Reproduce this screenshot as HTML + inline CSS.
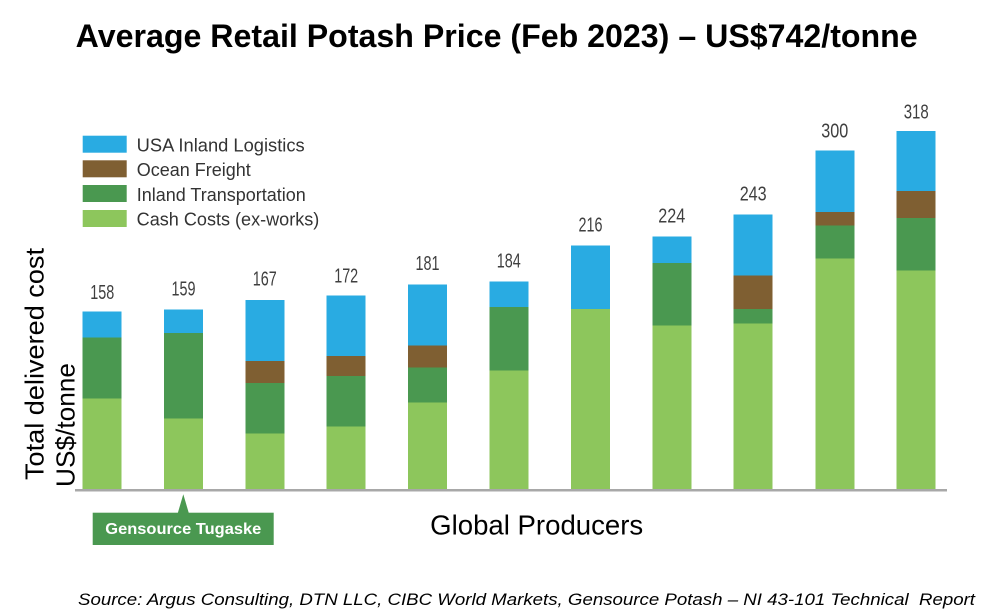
<!DOCTYPE html>
<html><head><meta charset="utf-8"><style>
html,body{margin:0;padding:0;background:#fff;}
svg{display:block;}
</style></head><body>
<svg width="997" height="614" viewBox="0 0 997 614" xmlns="http://www.w3.org/2000/svg">
<rect width="997" height="614" fill="#fff"/>
<text x="75.7" y="47" font-family="Liberation Sans, Arial, sans-serif" font-weight="bold" font-size="32" textLength="842" lengthAdjust="spacingAndGlyphs" fill="#000">Average Retail Potash Price (Feb 2023) – US$742/tonne</text>

<!-- legend -->
<g font-family="Liberation Sans, Arial, sans-serif" font-size="18" fill="#333">
<rect x="82.7" y="135.7" width="44" height="17" fill="#29ABE2"/>
<rect x="82.7" y="160.3" width="44" height="17" fill="#7F5F32"/>
<rect x="82.7" y="185" width="44" height="17" fill="#4A9850"/>
<rect x="82.7" y="210" width="44" height="17" fill="#8DC65C"/>
<text x="136.7" y="151.7" textLength="168" lengthAdjust="spacingAndGlyphs">USA Inland Logistics</text>
<text x="136.7" y="176.2">Ocean Freight</text>
<text x="136.7" y="200.8">Inland Transportation</text>
<text x="136.7" y="225.3" textLength="182.6" lengthAdjust="spacingAndGlyphs">Cash Costs (ex-works)</text>
</g>

<!-- bars -->
<g shape-rendering="crispEdges">
<rect x="82.7" y="311.7" width="39" height="26" fill="#29ABE2"/>
<rect x="82.7" y="337.7" width="39" height="61" fill="#4A9850"/>
<rect x="82.7" y="398.7" width="39" height="90.3" fill="#8DC65C"/>
<rect x="164" y="309.3" width="39" height="23.7" fill="#29ABE2"/>
<rect x="164" y="333" width="39" height="85.7" fill="#4A9850"/>
<rect x="164" y="418.7" width="39" height="70.3" fill="#8DC65C"/>
<rect x="245.3" y="300" width="39" height="61" fill="#29ABE2"/>
<rect x="245.3" y="361" width="39" height="22" fill="#7F5F32"/>
<rect x="245.3" y="383" width="39" height="50.7" fill="#4A9850"/>
<rect x="245.3" y="433.7" width="39" height="55.3" fill="#8DC65C"/>
<rect x="326.7" y="295.7" width="39" height="60.3" fill="#29ABE2"/>
<rect x="326.7" y="356" width="39" height="20" fill="#7F5F32"/>
<rect x="326.7" y="376" width="39" height="50.3" fill="#4A9850"/>
<rect x="326.7" y="426.3" width="39" height="62.7" fill="#8DC65C"/>
<rect x="408" y="284.3" width="39" height="61.4" fill="#29ABE2"/>
<rect x="408" y="345.7" width="39" height="22" fill="#7F5F32"/>
<rect x="408" y="367.7" width="39" height="35" fill="#4A9850"/>
<rect x="408" y="402.7" width="39" height="86.3" fill="#8DC65C"/>
<rect x="489.3" y="281.7" width="39" height="25.3" fill="#29ABE2"/>
<rect x="489.3" y="307" width="39" height="63.7" fill="#4A9850"/>
<rect x="489.3" y="370.7" width="39" height="118.3" fill="#8DC65C"/>
<rect x="571" y="245.3" width="39" height="63.7" fill="#29ABE2"/>
<rect x="571" y="309" width="39" height="180" fill="#8DC65C"/>
<rect x="652.3" y="236.3" width="39" height="26.7" fill="#29ABE2"/>
<rect x="652.3" y="263" width="39" height="62.7" fill="#4A9850"/>
<rect x="652.3" y="325.7" width="39" height="163.3" fill="#8DC65C"/>
<rect x="733.7" y="214.3" width="39" height="61.4" fill="#29ABE2"/>
<rect x="733.7" y="275.7" width="39" height="33.3" fill="#7F5F32"/>
<rect x="733.7" y="309" width="39" height="14.7" fill="#4A9850"/>
<rect x="733.7" y="323.7" width="39" height="165.3" fill="#8DC65C"/>
<rect x="815.3" y="150.7" width="39" height="61.3" fill="#29ABE2"/>
<rect x="815.3" y="212" width="39" height="13.3" fill="#7F5F32"/>
<rect x="815.3" y="225.3" width="39" height="33.4" fill="#4A9850"/>
<rect x="815.3" y="258.7" width="39" height="230.3" fill="#8DC65C"/>
<rect x="896.7" y="131" width="39" height="60" fill="#29ABE2"/>
<rect x="896.7" y="191" width="39" height="27" fill="#7F5F32"/>
<rect x="896.7" y="218" width="39" height="52.7" fill="#4A9850"/>
<rect x="896.7" y="270.7" width="39" height="218.3" fill="#8DC65C"/>
<rect x="75" y="489" width="872" height="2.5" fill="#A8A8A8"/>
</g>

<!-- value labels -->
<g font-family="Liberation Sans, Arial, sans-serif" font-size="20.5" fill="#3f3f3f" text-anchor="middle">
<text x="102.3" y="299" textLength="24" lengthAdjust="spacingAndGlyphs">158</text>
<text x="183.5" y="295.7" textLength="24" lengthAdjust="spacingAndGlyphs">159</text>
<text x="264.8" y="285.7" textLength="24" lengthAdjust="spacingAndGlyphs">167</text>
<text x="346.2" y="282.3" textLength="24" lengthAdjust="spacingAndGlyphs">172</text>
<text x="427.5" y="270" textLength="24" lengthAdjust="spacingAndGlyphs">181</text>
<text x="508.8" y="267.3" textLength="24" lengthAdjust="spacingAndGlyphs">184</text>
<text x="590.5" y="231.7" textLength="24" lengthAdjust="spacingAndGlyphs">216</text>
<text x="671.8" y="222.7" textLength="27" lengthAdjust="spacingAndGlyphs">224</text>
<text x="753.2" y="200.7" textLength="27" lengthAdjust="spacingAndGlyphs">243</text>
<text x="834.8" y="137.7" textLength="27" lengthAdjust="spacingAndGlyphs">300</text>
<text x="916.2" y="118.3" textLength="25" lengthAdjust="spacingAndGlyphs">318</text>
</g>

<!-- y axis label -->
<g font-family="Liberation Sans, Arial, sans-serif" font-size="26" fill="#000">
<text transform="translate(43.5,480) rotate(-90)" textLength="232" lengthAdjust="spacingAndGlyphs">Total delivered cost</text>
<text transform="translate(74.5,487) rotate(-90)" textLength="124" lengthAdjust="spacingAndGlyphs">US$/tonne</text>
</g>

<!-- x axis label -->
<text x="536.7" y="534.3" text-anchor="middle" font-family="Liberation Sans, Arial, sans-serif" font-size="27.5" fill="#000" textLength="213" lengthAdjust="spacingAndGlyphs">Global Producers</text>

<!-- callout -->
<polygon points="183.3,494.3 177.8,513 188.8,513" fill="#4A9850"/>
<rect x="92.7" y="512.7" width="181" height="32.3" fill="#4A9850"/>
<text x="183.3" y="534" text-anchor="middle" font-family="Liberation Sans, Arial, sans-serif" font-weight="bold" font-size="16" fill="#fff" textLength="156" lengthAdjust="spacingAndGlyphs">Gensource Tugaske</text>

<!-- source -->
<text x="78" y="605" font-family="Liberation Sans, Arial, sans-serif" font-style="italic" font-size="17" fill="#000" textLength="897" lengthAdjust="spacingAndGlyphs" xml:space="preserve">Source: Argus Consulting, DTN LLC, CIBC World Markets, Gensource Potash – NI 43-101 Technical  Report</text>
</svg>
</body></html>
